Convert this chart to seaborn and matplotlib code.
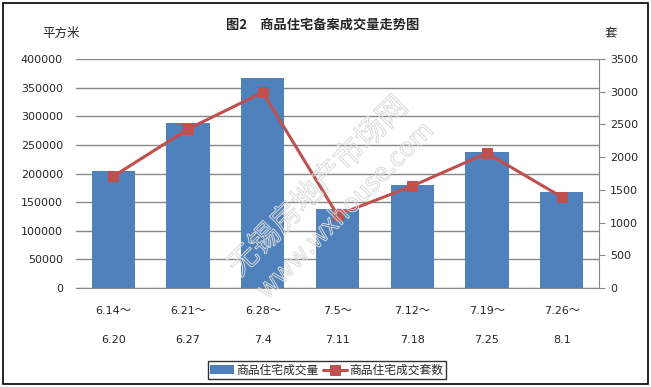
"""Recreate the weekly housing transaction chart (bars + line on twin axis)."""

import matplotlib

matplotlib.use("Agg")

import matplotlib.pyplot as plt
from matplotlib.font_manager import FontProperties
from matplotlib.patches import PathPatch, Rectangle
from matplotlib.text import TextPath
from matplotlib.transforms import Affine2D, IdentityTransform
import pandas as pd
import seaborn as sns

# data
week_start = ["6.14～", "6.21～", "6.28～", "7.5～", "7.12～", "7.19～", "7.26～"]
week_end = ["6.20", "6.27", "7.4", "7.11", "7.18", "7.25", "8.1"]
area_sold = [204500, 288000, 367000, 138000, 180000, 237500, 167500]
units_sold = [1707, 2430, 2991, 1116, 1559, 2063, 1391]
left_ticks = [0, 50000, 100000, 150000, 200000, 250000, 300000, 350000, 400000]
right_ticks = [0, 500, 1000, 1500, 2000, 2500, 3000, 3500]

BAR_BLUE = "#4F81BD"
LINE_RED = "#C0504D"
GRID = "#878787"
NUM_FONT = ["DejaVu Sans", "Noto Sans CJK SC"]

sns.set_style("white")
plt.rcParams["font.family"] = ["Noto Sans CJK SC", "DejaVu Sans"]

df = pd.DataFrame({"week": week_start, "area": area_sold, "units": units_sold})

fig = plt.figure(figsize=(6.51, 3.87), dpi=100)
ax = fig.add_axes([0.1167, 0.2558, 0.8035, 0.5917])

sns.barplot(data=df, x="week", y="area", color=BAR_BLUE, width=0.58,
            saturation=1, linewidth=0, ax=ax, label="商品住宅成交量", zorder=2)
ax.set_ylim(0, 400000)
ax.set_yticks(left_ticks)
ax.set_yticklabels([str(t) for t in left_ticks], fontsize=8, family=NUM_FONT)
ax.yaxis.grid(True, color=GRID, linewidth=1.0, zorder=0)
ax.set_axisbelow(True)
ax.set_xlim(-0.5, len(week_start) - 0.5)
ax.set_xlabel("")
ax.set_ylabel("")
ax.set_xticks(range(len(week_start)))
ax.set_xticklabels([f"{a}\n{b}" for a, b in zip(week_start, week_end)],
                   fontsize=8, family=NUM_FONT, linespacing=3.4)
ax.tick_params(axis="x", length=0, pad=13)
ax.tick_params(axis="y", length=0, pad=9.5)
for side in ["left", "top", "right"]:
    ax.spines[side].set_visible(False)
ax.spines["bottom"].set_color(GRID)

ax2 = ax.twinx()
sns.lineplot(data=df, x="week", y="units", color=LINE_RED, linewidth=2.2,
             marker="s", markersize=7, markeredgecolor=LINE_RED,
             ax=ax2, label="商品住宅成交套数", legend=False, zorder=3)
ax2.set_ylim(0, 3500)
ax2.set_yticks(right_ticks)
ax2.set_yticklabels([str(t) for t in right_ticks], fontsize=8, family=NUM_FONT)
ax2.set_ylabel("")
ax2.set_xlabel("")
ax2.tick_params(axis="y", length=4, color=GRID, direction="out", pad=4)
for side in ["left", "top", "bottom"]:
    ax2.spines[side].set_visible(False)
ax2.spines["right"].set_color(GRID)

# outlined watermark, drawn in pixel space
wm_font = FontProperties(family="Noto Sans CJK SC")
for text, size, cx, cy in [("无锡房地产市场网", 30, 316, 387 - 185),
                           ("www.wxhouse.com", 26, 343, 387 - 209)]:
    tp = TextPath((0, 0), text, size=size, prop=wm_font)
    ext = tp.get_extents()
    tr = (Affine2D().translate(-(ext.x0 + ext.x1) / 2, -(ext.y0 + ext.y1) / 2)
          .rotate_deg(45).translate(cx, cy))
    fig.patches.append(PathPatch(tr.transform_path(tp), facecolor="none",
                                 edgecolor="#dadada", linewidth=0.7,
                                 transform=IdentityTransform(), zorder=5))

fig.text(0.495, 0.935, "图2　商品住宅备案成交量走势图", fontsize=9.5,
         fontweight="bold", ha="center", va="center")
fig.text(0.094, 0.915, "平方米", fontsize=9, ha="center", va="center")
fig.text(0.9385, 0.915, "套", fontsize=9, ha="center", va="center")

h1, l1 = ax.get_legend_handles_labels()
h2, l2 = ax2.get_legend_handles_labels()
if ax.get_legend():
    ax.get_legend().remove()
fig.legend(h1 + h2, l1 + l2, loc="center", bbox_to_anchor=(0.502, 0.0435),
           ncol=2, fontsize=8.5, frameon=True, fancybox=False, edgecolor="black",
           handlelength=2.0, handletextpad=0.2, columnspacing=0.4,
           borderpad=0.2, borderaxespad=0)

fig.patches.append(Rectangle((0.005, 0.008), 0.99, 0.984, transform=fig.transFigure,
                             fill=False, edgecolor="black", linewidth=1.2))

fig.savefig("out.png", dpi=100)
